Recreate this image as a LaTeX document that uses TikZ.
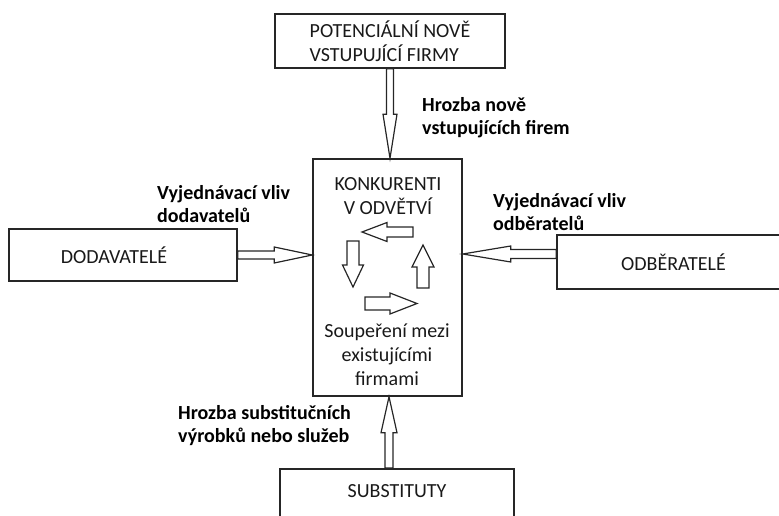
\documentclass[tikz,border=0pt]{standalone}
\usepackage{fontspec}
\setmainfont{Carlito}
\usetikzlibrary{calc}
\newcommand\blockarr[5]{% #1 from, #2 to, #3 half shaft, #4 half head, #5 head length
  \coordinate (hb) at ($(#2)!#5!(#1)$);
  \draw[arrowline] ($(#1)!#3!90:(#2)$) -- ($(hb)!#3!90:(#2)$) -- ($(hb)!#4!90:(#2)$) -- (#2)
    -- ($(hb)!#4!-90:(#2)$) -- ($(hb)!#3!-90:(#2)$) -- ($(#1)!#3!-90:(#2)$) -- cycle;
}
\begin{document}
\begin{tikzpicture}[x=1pt,y=-1pt, font=\fontsize{20}{24}\selectfont,
  box/.style={draw=black!85, line width=1.5pt, inner sep=0pt},
  arrowline/.style={draw=black!85, line width=1.2pt, line join=miter},
  lab/.style={font=\fontsize{20}{23}\selectfont\bfseries, align=left, anchor=west, inner sep=0pt, text=black},
  txt/.style={inner sep=0pt, text=black!90}]
\useasboundingbox (0,0) rectangle (779,516);
\clip (0,0) rectangle (779,516);
% boxes
\node[box, txt, minimum width=230, minimum height=54, align=left] (pot) at (390,41) {POTENCIÁLNÍ NOVĚ\\VSTUPUJÍCÍ FIRMY};
\node[box, minimum width=149, minimum height=237] (mid) at (387.5,277.5) {};
\node[box, txt, minimum width=228, minimum height=52] (dod) at (123,255) {DODAVATELÉ\hspace*{18pt}};
\node[box, txt, minimum width=233, minimum height=54] (odb) at (673.5,262) {ODBĚRATELÉ};
\node[box, txt, minimum width=234, anchor=north, text height=28.5pt, text depth=40pt] (sub) at (397,468) {SUBSTITUTY};
% texts inside the middle box
\node[txt, align=center] (konk) at (388,196.5) {KONKURENTI\\V ODVĚTVÍ};
\node[txt, align=center] (soup) at (387,355) {Soupeření mezi\\existujícími\\firmami};
% connector coordinates
\coordinate (ta) at (pot.south);
\coordinate (tb) at (pot.south |- mid.north);
\coordinate (la) at (dod.east);
\coordinate (lb) at (dod.east -| mid.west);
\coordinate (ra) at ([yshift=8pt]odb.west);
\coordinate (rb) at (ra -| mid.east);
\coordinate (ba) at ([xshift=-8pt]sub.north);
\coordinate (bb) at (ba |- mid.south);
\blockarr{ta}{tb}{3.5pt}{7pt}{44pt}
\blockarr{la}{lb}{4pt}{8pt}{38pt}
\blockarr{ra}{rb}{4.5pt}{8pt}{48pt}
\blockarr{ba}{bb}{4pt}{8pt}{36pt}
% inner cycle arrows
\coordinate (c1a) at (413,232); \coordinate (c1b) at (362,232);
\coordinate (c2a) at (353,241); \coordinate (c2b) at (353,287);
\coordinate (c3a) at (365,303.5); \coordinate (c3b) at (417,303.5);
\coordinate (c4a) at (423,288); \coordinate (c4b) at (423,245);
\blockarr{c1a}{c1b}{5pt}{9.5pt}{25pt}
\blockarr{c2a}{c2b}{6pt}{10.5pt}{22pt}
\blockarr{c3a}{c3b}{6.5pt}{10.5pt}{27pt}
\blockarr{c4a}{c4b}{6pt}{11pt}{22pt}
% labels
\node[lab] (l1) at (422,118) {Hrozba nově\\vstupujících firem};
\node[lab] (l2) at (157,204) {Vyjednávací vliv\\dodavatelů};
\node[lab] (l3) at (493,212) {Vyjednávací vliv\\odběratelů};
\node[lab] (l4) at (178,425.5) {Hrozba substitučních\\výrobků nebo služeb};
\end{tikzpicture}
\end{document}
